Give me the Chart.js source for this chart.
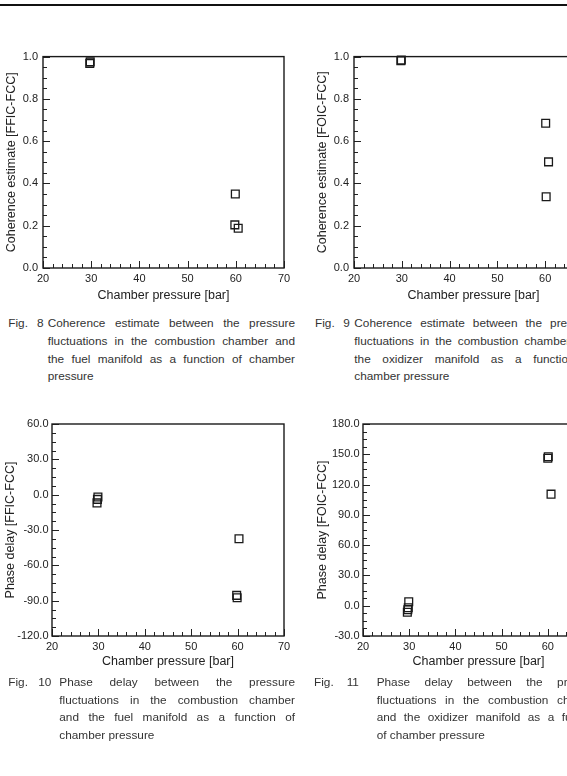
<!DOCTYPE html>
<html><head><meta charset="utf-8">
<script src="https://cdn.jsdelivr.net/npm/chart.js@4.4.1/dist/chart.umd.min.js"></script>
<style>
html,body{margin:0;padding:0;width:567px;height:776px;overflow:hidden;background:#fff;}
body{position:relative;font-family:"Liberation Sans",Arial,sans-serif;}
.rule{position:absolute;left:0;top:4px;width:567px;height:2px;background:#111;}
canvas{position:absolute;}
.cap{position:absolute;left:0;width:567px;font-size:11.8px;line-height:17.67px;color:#333;}
.cap .lbl{position:absolute;top:0;white-space:nowrap;}
.cap .txt{position:absolute;top:0;}
.cap .ln{height:17.67px;text-align:justify;text-align-last:justify;}
.cap .ln.last{text-align-last:left;}
</style></head><body>
<div class="rule"></div>
<canvas id="c8"></canvas>
<canvas id="c9"></canvas>
<canvas id="c10"></canvas>
<canvas id="c11"></canvas>

<div class="cap" style="top:315.2px">
  <span class="lbl" style="left:8.3px">Fig.</span><span class="lbl" style="left:37px">8</span>
  <div class="txt" style="left:47.7px;width:247.3px">
    <div class="ln">Coherence estimate between the pressure</div>
    <div class="ln">fluctuations in the combustion chamber and</div>
    <div class="ln">the fuel manifold as a function of chamber</div>
    <div class="ln last">pressure</div>
  </div>
  <span class="lbl" style="left:315px">Fig.</span><span class="lbl" style="left:343.3px">9</span>
  <div class="txt" style="left:354.3px;width:241.7px">
    <div class="ln">Coherence estimate between the pressure</div>
    <div class="ln">fluctuations in the combustion chamber and</div>
    <div class="ln">the oxidizer manifold as a function of</div>
    <div class="ln last">chamber pressure</div>
  </div>
</div>
<div class="cap" style="top:673.9px">
  <span class="lbl" style="left:8.3px">Fig.</span><span class="lbl" style="left:38.3px">10</span>
  <div class="txt" style="left:59.3px;width:235.7px">
    <div class="ln">Phase delay between the pressure</div>
    <div class="ln">fluctuations in the combustion chamber</div>
    <div class="ln">and the fuel manifold as a function of</div>
    <div class="ln last">chamber pressure</div>
  </div>
  <span class="lbl" style="left:314px">Fig.</span><span class="lbl" style="left:346.7px">11</span>
  <div class="txt" style="left:376.7px;width:226.3px">
    <div class="ln">Phase delay between the pressure</div>
    <div class="ln">fluctuations in the combustion chamber</div>
    <div class="ln">and the oxidizer manifold as a function</div>
    <div class="ln last">of chamber pressure</div>
  </div>
</div>

<script>
// ---- data ----
const pressureTicks = [20, 30, 40, 50, 60, 70];
const coherenceTicks = [0.0, 0.2, 0.4, 0.6, 0.8, 1.0];
const phaseTicksFFIC = [-120, -90, -60, -30, 0, 30, 60];
const phaseTicksFOIC = [-30, 0, 30, 60, 90, 120, 150, 180];

// Fig. 8: coherence FFIC-FCC
const fig8Pressure  = [29.7, 29.8, 59.9, 59.8, 60.5];
const fig8Coherence = [0.968, 0.975, 0.35, 0.204, 0.188];
// Fig. 9: coherence FOIC-FCC
const fig9Pressure  = [29.8, 29.9, 60.1, 60.7, 60.2];
const fig9Coherence = [0.980, 0.984, 0.685, 0.502, 0.337];
// Fig. 10: phase delay FFIC-FCC
const fig10Pressure = [29.7, 29.9, 29.8, 60.3, 59.8, 59.9];
const fig10Phase    = [-7, -2, -4, -37.5, -85.5, -87.5];
// Fig. 11: phase delay FOIC-FCC
const fig11Pressure = [29.9, 29.8, 29.6, 29.7, 60.0, 60.1, 60.7];
const fig11Phase    = [4, -2, -6.5, -4, 146, 147.5, 110.5];

const FAM = '"Liberation Sans", Arial, sans-serif';

const frameTicks = {
  id: 'frameTicks',
  afterDraw(chart, args, o) {
    const {ctx, chartArea: a, scales: {x, y}} = chart;
    ctx.save();
    ctx.strokeStyle = '#222';
    ctx.lineWidth = 1;
    const isMajor = (v, m) => Math.abs(v / m - Math.round(v / m)) < 1e-6;
    for (let i = 0; ; i++) {
      const v = x.min + i * o.xMinor;
      if (v > x.max + 1e-9) break;
      const px = Math.round(x.getPixelForValue(v)) + 0.5;
      const len = isMajor(v, o.xMajor) ? 7 : 4;
      ctx.beginPath(); ctx.moveTo(px, a.bottom); ctx.lineTo(px, a.bottom - len); ctx.stroke();
    }
    for (let i = 0; ; i++) {
      const v = y.min + i * o.yMinor;
      if (v > y.max + 1e-9) break;
      const py = Math.round(y.getPixelForValue(v)) + 0.5;
      const len = isMajor(v - y.min, o.yMajor) ? 7 : 4;
      ctx.beginPath(); ctx.moveTo(a.left, py); ctx.lineTo(a.left + len, py); ctx.stroke();
    }
    ctx.lineWidth = 1.4;
    ctx.strokeStyle = '#1a1a1a';
    ctx.strokeRect(a.left, a.top, a.right - a.left, a.bottom - a.top);
    ctx.restore();
  }
};

function makeChart(id, box, plot, xs, ys, yTicks, yMinor, yTitle, yTitleX, xTitleY, yPad, xPad) {
  const cv = document.getElementById(id);
  cv.width = box.w; cv.height = box.h;
  cv.style.left = box.left + 'px'; cv.style.top = box.top + 'px';
  const pts = xs.map((x, i) => ({x: x, y: ys[i]}));
  new Chart(cv, {
    type: 'scatter',
    data: {datasets: [{data: pts, pointStyle: 'rect', pointRadius: 5.5, pointHoverRadius: 5.5,
      borderColor: '#1a1a1a', backgroundColor: 'rgba(0,0,0,0)', borderWidth: 1.3, clip: false}]},
    options: {
      responsive: false, animation: false, events: [],
      layout: {padding: {left: 0, top: plot.top - box.top, right: box.left + box.w - plot.right, bottom: 0}},
      plugins: {legend: {display: false}, tooltip: {enabled: false},
        frameTicks: {xMinor: 2, xMajor: 10, yMinor: yMinor, yMajor: yTicks[1] - yTicks[0]}},
      scales: {
        x: {type: 'linear', min: pressureTicks[0], max: pressureTicks[pressureTicks.length - 1],
          afterBuildTicks: s => { s.ticks = pressureTicks.map(v => ({value: v})); },
          afterFit: s => { s.height = box.top + box.h - plot.bottom; },
          grid: {display: false, drawTicks: false}, border: {display: false},
          ticks: {autoSkip: false, maxRotation: 0, padding: xPad, color: '#222', font: {family: FAM, size: 11}, callback: v => String(v)},
          title: {display: true, text: 'Chamber pressure [bar]', color: '#222', font: {family: FAM, size: 12.5},
            padding: {top: 0, bottom: box.top + box.h - xTitleY - 7.5}}},
        y: {type: 'linear', min: yTicks[0], max: yTicks[yTicks.length - 1],
          afterBuildTicks: s => { s.ticks = yTicks.map(v => ({value: v})); },
          afterFit: s => { s.width = plot.left - box.left; },
          grid: {display: false, drawTicks: false}, border: {display: false},
          ticks: {autoSkip: false, padding: yPad, color: '#222', font: {family: FAM, size: 11}, callback: v => Number(v).toFixed(1)},
          title: {display: true, text: yTitle, color: '#222', font: {family: FAM, size: 12.5},
            padding: {top: yTitleX - box.left - 7.5, bottom: 0}}}
      }
    },
    plugins: [frameTicks]
  });
}

makeChart('c8', {left: 0, top: 45, w: 300, h: 265}, {left: 43, right: 284, top: 55, bottom: 268},
  fig8Pressure, fig8Coherence, coherenceTicks, 0.05, 'Coherence estimate [FFIC-FCC]', 12, 295.5, 5, 4.5);
makeChart('c9', {left: 311, top: 45, w: 298, h: 265}, {left: 354, right: 593, top: 55, bottom: 268},
  fig9Pressure, fig9Coherence, coherenceTicks, 0.05, 'Coherence estimate [FOIC-FCC]', 323, 295.5, 5, 4.5);
makeChart('c10', {left: 0, top: 410, w: 300, h: 267}, {left: 52, right: 284, top: 424, bottom: 636},
  fig10Pressure, fig10Phase, phaseTicksFFIC, 7.5, 'Phase delay [FFIC-FCC]', 11, 661.5, 3.5, 4);
makeChart('c11', {left: 311, top: 410, w: 300, h: 267}, {left: 363, right: 594, top: 424, bottom: 636},
  fig11Pressure, fig11Phase, phaseTicksFOIC, 7.5, 'Phase delay [FOIC-FCC]', 322.5, 661.5, 3.5, 4);
</script>
</body></html>
